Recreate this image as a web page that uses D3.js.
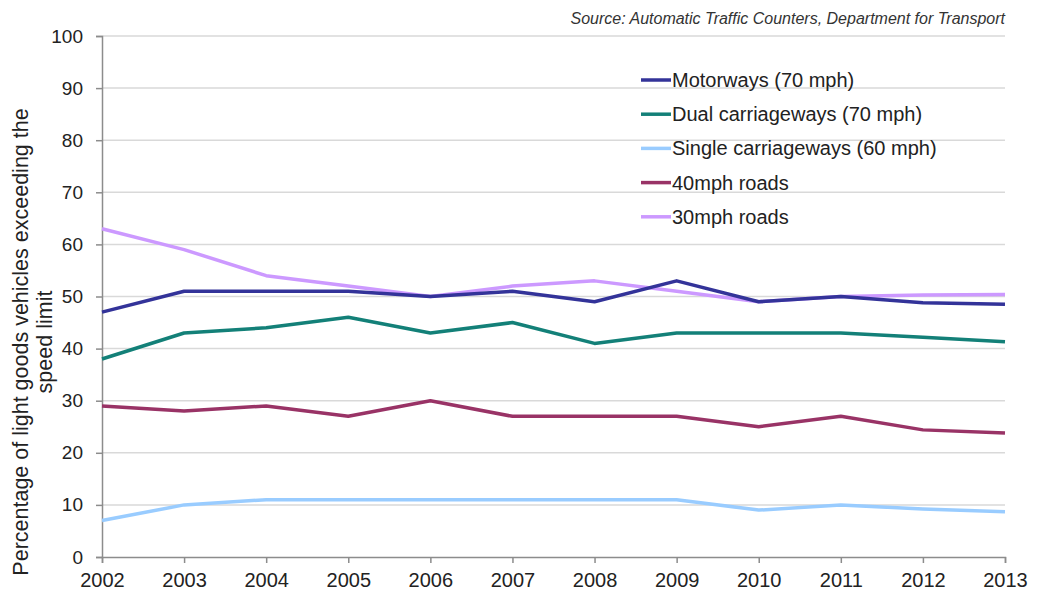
<!DOCTYPE html>
<html>
<head>
<meta charset="utf-8">
<script src="https://cdn.jsdelivr.net/npm/d3@7"></script>
<style>
  body { margin: 0; background: #fff; }
  svg { font-family: "Liberation Sans", Arial, sans-serif; }
</style>
</head>
<body>
<div id="chart"></div>
<script>
const years = [2002, 2003, 2004, 2005, 2006, 2007, 2008, 2009, 2010, 2011, 2012, 2013];
const seriesNames = [
  "Motorways (70 mph)",
  "Dual carriageways (70 mph)",
  "Single carriageways (60 mph)",
  "40mph roads",
  "30mph roads",
];
const motorways = [47, 51, 51, 51, 50, 51, 49, 53, 49, 50, 48.8, 48.5];
const dualCarriageways = [38, 43, 44, 46, 43, 45, 41, 43, 43, 43, 42.2, 41.3];
const singleCarriageways = [7, 10, 11, 11, 11, 11, 11, 11, 9, 10, 9.2, 8.7];
const roads40 = [29, 28, 29, 27, 30, 27, 27, 27, 25, 27, 24.4, 23.8];
const roads30 = [63, 59, 54, 52, 50, 52, 53, 51, 49, 50, 50.3, 50.4];
const colors = ["#333399", "#138078", "#99ccff", "#993366", "#cc99ff"];
const yTicks = [0, 10, 20, 30, 40, 50, 60, 70, 80, 90, 100];

const width = 1037, height = 591;
const margin = { top: 36, right: 32, bottom: 34, left: 102 };

const svg = d3.select("#chart").append("svg")
  .attr("width", width)
  .attr("height", height);

const x = d3.scalePoint()
  .domain(years)
  .range([margin.left, width - margin.right]);

const y = d3.scaleLinear()
  .domain([0, 100])
  .range([height - margin.bottom, margin.top]);

// gridlines
svg.append("g")
  .selectAll("line")
  .data(yTicks.filter(d => d > 0))
  .join("line")
  .attr("x1", margin.left)
  .attr("x2", width - margin.right)
  .attr("y1", d => y(d))
  .attr("y2", d => y(d))
  .attr("stroke", "#d9d9d9")
  .attr("stroke-width", 1.5);

// y axis
const yAxis = svg.append("g")
  .attr("transform", `translate(${margin.left},0)`)
  .call(d3.axisLeft(y).tickValues(yTicks).tickSize(6).tickPadding(13));
yAxis.selectAll("text").attr("font-size", 19).attr("fill", "#222");

// x axis
const xAxis = svg.append("g")
  .attr("transform", `translate(0,${height - margin.bottom})`)
  .call(d3.axisBottom(x).tickSize(6).tickPadding(10).tickFormat(d3.format("d")));
xAxis.selectAll("text").attr("font-size", 20).attr("fill", "#222");

svg.selectAll(".domain, .tick line").attr("stroke", "#8c8c8c").attr("stroke-width", 1.5);

// series
const allSeries = [motorways, dualCarriageways, singleCarriageways, roads40, roads30];
const line = d3.line()
  .x((d, i) => x(years[i]))
  .y(d => y(d));

// draw in reverse so motorways are on top
svg.append("g")
  .selectAll("path")
  .data(allSeries.map((values, i) => ({ values, i })).reverse())
  .join("path")
  .attr("fill", "none")
  .attr("stroke", d => colors[d.i])
  .attr("stroke-width", 3.5)
  .attr("stroke-linejoin", "round")
  .attr("d", d => line(d.values));

// legend
const legend = svg.append("g").attr("transform", "translate(641,80)");
const item = legend.selectAll("g")
  .data(seriesNames)
  .join("g")
  .attr("transform", (d, i) => `translate(0,${i * 34.2})`);
item.append("line")
  .attr("x1", 0)
  .attr("x2", 30)
  .attr("stroke", (d, i) => colors[i])
  .attr("stroke-width", 3.5);
item.append("text")
  .attr("x", 31)
  .attr("dy", "0.35em")
  .attr("font-size", 20)
  .attr("fill", "#222")
  .text(d => d);

// y label
svg.append("text")
  .attr("transform", "translate(28,342) rotate(-90)")
  .attr("text-anchor", "middle")
  .attr("font-size", 21.5)
  .attr("fill", "#222")
  .selectAll("tspan")
  .data(["Percentage of light goods vehicles exceeding the", "speed limit"])
  .join("tspan")
  .attr("x", 0)
  .attr("dy", (d, i) => i === 0 ? 0 : 24)
  .text(d => d);

// source note
svg.append("text")
  .attr("x", width - margin.right)
  .attr("y", 24)
  .attr("text-anchor", "end")
  .attr("font-size", 16)
  .attr("font-style", "italic")
  .attr("fill", "#333")
  .text("Source: Automatic Traffic Counters, Department for Transport");
</script>
</body>
</html>
